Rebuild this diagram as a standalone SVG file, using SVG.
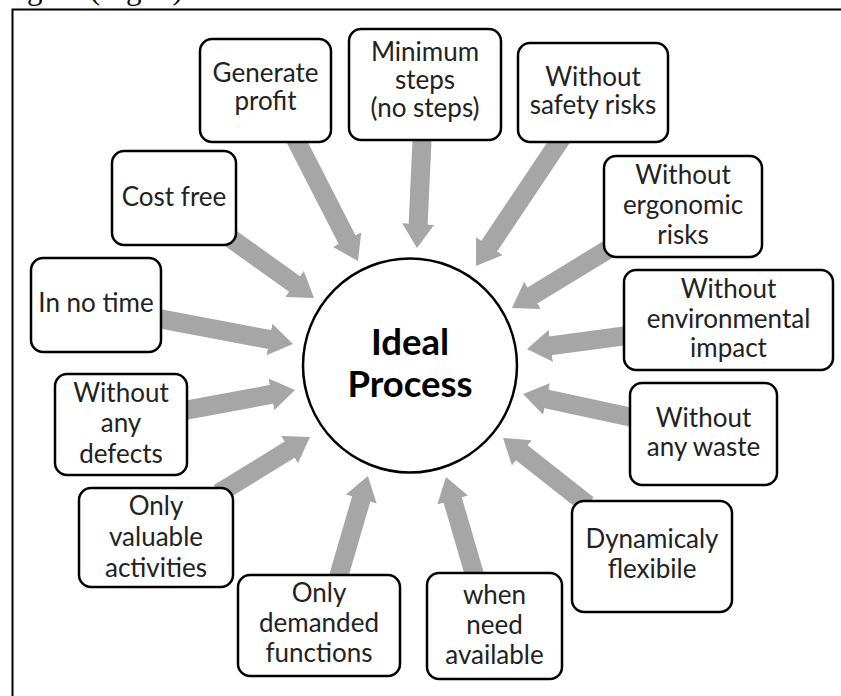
<svg xmlns="http://www.w3.org/2000/svg" width="841" height="696" viewBox="0 0 841 696">
<defs>
<marker id="ah" markerUnits="userSpaceOnUse" markerWidth="24" markerHeight="32" viewBox="0 0 24 32" refX="1" refY="16" orient="auto">
<path d="M0,0 L24,16 L0,32 Z" fill="#a6a6a6"/>
</marker>
<style>
.box{fill:#fff;stroke:#000;stroke-width:2.5}
.t{font-family:Lato,"Open Sans","Liberation Sans",sans-serif;font-size:26px;fill:#222;text-anchor:middle}
.c{stroke:#a6a6a6;stroke-width:19;fill:none;marker-end:url(#ah)}
.title{font-family:Lato,"Open Sans","Liberation Sans",sans-serif;font-size:36.5px;font-weight:bold;fill:#000;text-anchor:middle}
</style>
</defs>
<rect width="841" height="696" fill="#fff"/>
<text x="27" y="-1" font-family="'Liberation Serif',serif" font-size="31" fill="#000">gure (Fig. 1) shows</text>
<path d="M12.5,696 V9.5 H841" fill="none" stroke="#000" stroke-width="2"/>
<g id="connectors">
<line class="c" x1="294.3" y1="136.7" x2="347.5" y2="240.5"/>
<line class="c" x1="422.3" y1="134" x2="418.1" y2="225"/>
<line class="c" x1="562.3" y1="137" x2="488.8" y2="246.9"/>
<line class="c" x1="612.1" y1="246.9" x2="531.6" y2="296"/>
<line class="c" x1="630" y1="335.2" x2="549.8" y2="345.9"/>
<line class="c" x1="635.9" y1="418.3" x2="545.5" y2="398.8"/>
<line class="c" x1="587.7" y1="504.7" x2="521.1" y2="452.2"/>
<line class="c" x1="475.7" y1="578.8" x2="452.4" y2="499.1"/>
<line class="c" x1="337.3" y1="580.8" x2="361.5" y2="498.1"/>
<line class="c" x1="218.9" y1="493.2" x2="290.4" y2="449.1"/>
<line class="c" x1="181.1" y1="411.1" x2="272.4" y2="394.2"/>
<line class="c" x1="155.1" y1="317.9" x2="270.4" y2="339.7"/>
<line class="c" x1="228.1" y1="236.5" x2="295.3" y2="284.6"/>
</g>
<g id="ideal-process">
<circle cx="410" cy="365.5" r="107" fill="#fff" stroke="#000" stroke-width="2.5"/>
<text class="title" x="410" y="355">Ideal</text>
<text class="title" x="410" y="397">Process</text>
</g>
<g id="generate-profit">
<rect class="box" x="200" y="39" width="131" height="103" rx="12"/>
<text class="t" x="265.5" y="82">Generate</text>
<text class="t" x="265.5" y="110">profit</text>
</g>
<g id="minimum-steps">
<rect class="box" x="349" y="29" width="152" height="111" rx="12"/>
<text class="t" x="425" y="61">Minimum</text>
<text class="t" x="425" y="89">steps</text>
<text class="t" x="425" y="117">(no steps)</text>
</g>
<g id="safety-risks">
<rect class="box" x="518" y="43" width="150" height="99" rx="12"/>
<text class="t" x="593" y="86">Without</text>
<text class="t" x="593" y="114">safety risks</text>
</g>
<g id="ergonomic-risks">
<rect class="box" x="604" y="156" width="158" height="101" rx="12"/>
<text class="t" x="683" y="184">Without</text>
<text class="t" x="683" y="214">ergonomic</text>
<text class="t" x="683" y="244">risks</text>
</g>
<g id="environmental-impact">
<rect class="box" x="624" y="270" width="209" height="100" rx="12"/>
<text class="t" x="728.5" y="298">Without</text>
<text class="t" x="728.5" y="328">environmental</text>
<text class="t" x="728.5" y="357">impact</text>
</g>
<g id="any-waste">
<rect class="box" x="630" y="383" width="147" height="102" rx="12"/>
<text class="t" x="703.5" y="427">Without</text>
<text class="t" x="703.5" y="456">any waste</text>
</g>
<g id="dynamicaly-flexibile">
<rect class="box" x="572" y="501" width="160" height="111" rx="12"/>
<text class="t" x="652" y="548">Dynamicaly</text>
<text class="t" x="652" y="578">flexibile</text>
</g>
<g id="when-need-available">
<rect class="box" x="427" y="573" width="135" height="106" rx="12"/>
<text class="t" x="494.5" y="604">when</text>
<text class="t" x="494.5" y="634">need</text>
<text class="t" x="494.5" y="664">available</text>
</g>
<g id="only-demanded-functions">
<rect class="box" x="238" y="575" width="162" height="101" rx="12"/>
<text class="t" x="319" y="602">Only</text>
<text class="t" x="319" y="632">demanded</text>
<text class="t" x="319" y="662">functions</text>
</g>
<g id="only-valuable-activities">
<rect class="box" x="79" y="488" width="154" height="99" rx="12"/>
<text class="t" x="156" y="515">Only</text>
<text class="t" x="156" y="546">valuable</text>
<text class="t" x="156" y="577">activities</text>
</g>
<g id="without-any-defects">
<rect class="box" x="55" y="374" width="132" height="101" rx="12"/>
<text class="t" x="121" y="402">Without</text>
<text class="t" x="121" y="432">any</text>
<text class="t" x="121" y="463">defects</text>
</g>
<g id="in-no-time">
<rect class="box" x="31" y="258" width="130" height="94" rx="12"/>
<text class="t" x="96" y="312">In no time</text>
</g>
<g id="cost-free">
<rect class="box" x="112" y="151" width="124" height="94" rx="12"/>
<text class="t" x="174" y="206">Cost free</text>
</g>
</svg>
